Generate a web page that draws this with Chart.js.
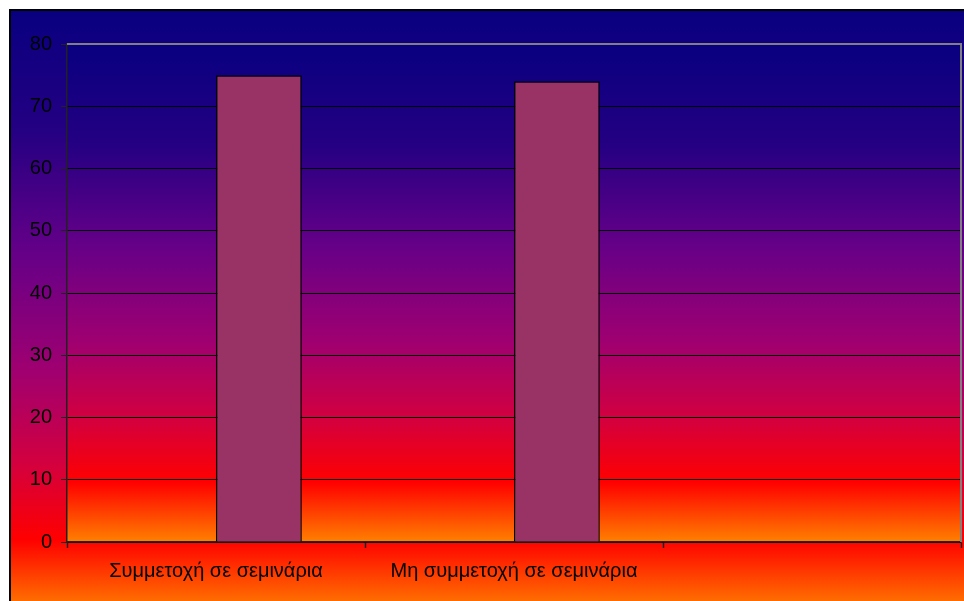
<!DOCTYPE html>
<html>
<head>
<meta charset="utf-8">
<script src="https://cdn.jsdelivr.net/npm/chart.js@4.4.1/dist/chart.umd.min.js"></script>
<style>
  html, body { margin: 0; padding: 0; background: #fff; }
  #chart { display: block; }
</style>
</head>
<body>
<canvas id="chart" width="964" height="601"></canvas>
<script>
// Data
const categories = ['Συμμετοχή σε σεμινάρια', 'Μη συμμετοχή σε σεμινάρια', ''];
const emptySeries = [null, null, null];
const participation = [75, 74, null];
const yTicks = [0, 10, 20, 30, 40, 50, 60, 70, 80];

// sunset-like gradient used for both the chart area and the plot area
function sunset(ctx, y0, y1) {
  const g = ctx.createLinearGradient(0, y0, 0, y1);
  g.addColorStop(0, '#080080');
  g.addColorStop(0.2, '#240082');
  g.addColorStop(0.4, '#640088');
  g.addColorStop(0.6, '#a00070');
  g.addColorStop(0.75, '#d20040');
  g.addColorStop(0.88, '#ff0000');
  g.addColorStop(1, '#ff8000');
  return g;
}

const backgrounds = {
  id: 'backgrounds',
  beforeDraw(chart) {
    const ctx = chart.ctx;
    const a = chart.chartArea;
    ctx.save();
    // outer chart area
    ctx.fillStyle = sunset(ctx, 10, 612);
    ctx.fillRect(10, 10, chart.width - 10, chart.height - 10);
    ctx.strokeStyle = '#000';
    ctx.lineWidth = 2;
    ctx.strokeRect(10, 10, chart.width + 10, chart.height + 10);
    // plot area
    ctx.fillStyle = sunset(ctx, a.top, a.bottom);
    ctx.fillRect(a.left, a.top, a.right - a.left, a.bottom - a.top);
    ctx.restore();
  },
  beforeDatasetsDraw(chart) {
    const ctx = chart.ctx;
    const a = chart.chartArea;
    ctx.save();
    ctx.strokeStyle = '#808080';
    ctx.lineWidth = 2;
    ctx.beginPath();
    ctx.moveTo(a.left, a.top);
    ctx.lineTo(a.right, a.top);
    ctx.lineTo(a.right, a.bottom);
    ctx.stroke();
    ctx.restore();
  }
};

new Chart(document.getElementById('chart'), {
  type: 'bar',
  data: {
    labels: categories,
    datasets: [
      {
        label: 'empty',
        data: emptySeries,
        backgroundColor: '#993366'
      },
      {
        label: 'Συμμετοχή',
        data: participation,
        backgroundColor: '#993366',
        borderColor: '#000',
        borderWidth: 1.5
      }
    ]
  },
  options: {
    responsive: false,
    animation: false,
    devicePixelRatio: 1,
    categoryPercentage: 0.576,
    barPercentage: 1,
    layout: { padding: { left: 0, top: 44, right: 3, bottom: 0 } },
    plugins: {
      legend: { display: false },
      tooltip: { enabled: false }
    },
    scales: {
      x: {
        offset: true,
        afterFit: s => { s.height = 59; },
        grid: {
          offset: true,
          drawOnChartArea: false,
          drawTicks: true,
          tickLength: 6,
          tickColor: '#222',
          tickWidth: 1.5
        },
        border: { display: true, color: '#222', width: 1.5 },
        ticks: {
          color: '#000',
          padding: 11,
          maxRotation: 0,
          autoSkip: false,
          font: { family: 'Arial, "Liberation Sans", sans-serif', size: 20 }
        }
      },
      y: {
        min: 0,
        max: 80,
        afterFit: s => { s.width = 67; },
        afterBuildTicks: s => { s.ticks = yTicks.map(v => ({ value: v })); },
        grid: {
          color: c => (c.tick && c.tick.value === 80 ? 'rgba(0,0,0,0)' : '#000'),
          lineWidth: 1,
          drawTicks: true,
          tickLength: 6,
          tickColor: '#222'
        },
        border: { display: true, color: '#222', width: 1.5 },
        ticks: {
          color: '#000',
          padding: 9,
          font: { family: 'Arial, "Liberation Sans", sans-serif', size: 20 }
        }
      }
    }
  },
  plugins: [backgrounds]
});
</script>
</body>
</html>
